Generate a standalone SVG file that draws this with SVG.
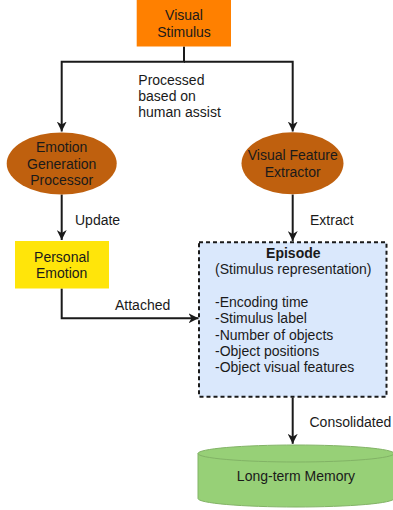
<svg xmlns="http://www.w3.org/2000/svg" width="393" height="510" viewBox="0 0 393 510">
<defs>
<style>
text{font-family:"Liberation Sans",Arial,sans-serif;font-size:14px;fill:#1a1a1a}
.c{text-anchor:middle}
.b{font-weight:bold}
.edge{fill:none;stroke:#1a1a1a;stroke-width:2}
</style>
<marker id="arr" viewBox="0 0 10 10" refX="10" refY="5" markerWidth="5" markerHeight="5" markerUnits="strokeWidth" orient="auto">
<path d="M0,0 L10,5 L0,10 L3,5 Z" fill="#1a1a1a"/>
</marker>
</defs>
<rect width="393" height="510" fill="#ffffff"/>
<g id="connectors">
<path class="edge" d="M184,46.5 V61.7 H61.7 V131.5" marker-end="url(#arr)"/>
<path class="edge" d="M184,61.7 H292.7 V131.5" marker-end="url(#arr)"/>
<path class="edge" d="M61.7,194.5 V240" marker-end="url(#arr)"/>
<path class="edge" d="M292.7,194.5 V241" marker-end="url(#arr)"/>
<path class="edge" d="M61.7,288.5 V318.3 H198.5" marker-end="url(#arr)"/>
<path class="edge" d="M292.7,397.5 V443.8" marker-end="url(#arr)"/>
<text x="138.3" y="85">Processed</text>
<text x="138.3" y="101">based on</text>
<text x="138.3" y="117">human assist</text>
<text x="75" y="225">Update</text>
<text x="310" y="225">Extract</text>
<text x="115" y="310">Attached</text>
<text x="309.5" y="427">Consolidated</text>
</g>
<g id="visual-stimulus">
<rect x="136.7" y="-1" width="94.3" height="47.5" fill="#ff8000"/>
<text class="c" x="184" y="20">Visual</text>
<text class="c" x="184" y="36.5">Stimulus</text>
</g>
<g id="emotion-generation-processor">
<ellipse cx="61.7" cy="163.5" rx="55" ry="31" fill="#bf600e"/>
<text class="c" x="61.7" y="152">Emotion</text>
<text class="c" x="61.7" y="168.7">Generation</text>
<text class="c" x="61.7" y="185">Processor</text>
</g>
<g id="visual-feature-extractor">
<ellipse cx="292.5" cy="163.3" rx="51" ry="31" fill="#bf600e"/>
<text class="c" x="292.7" y="160.3">Visual Feature</text>
<text class="c" x="292.7" y="176.7">Extractor</text>
</g>
<g id="personal-emotion">
<rect x="15" y="241" width="94" height="47.5" fill="#ffe50a"/>
<text class="c" x="61.7" y="261.7">Personal</text>
<text class="c" x="61.7" y="277.5">Emotion</text>
</g>
<g id="episode">
<rect x="199" y="242.3" width="187.5" height="154.5" fill="#dae8fc" stroke="#1a1a1a" stroke-width="2" stroke-dasharray="4 3"/>
<text class="c b" x="293.3" y="257.5">Episode</text>
<text class="c" x="293.3" y="274">(Stimulus representation)</text>
<text x="215" y="306.7">-Encoding time</text>
<text x="215" y="323.2">-Stimulus label</text>
<text x="215" y="339.5">-Number of objects</text>
<text x="215" y="355.8">-Object positions</text>
<text x="215" y="372.3">-Object visual features</text>
</g>
<g id="long-term-memory">
<path d="M198,453.5 A98,8.5 0 0 1 394,453.5 V498.5 A98,8.5 0 0 1 198,498.5 Z" fill="#97d077" stroke="#82b366" stroke-width="1"/>
<path d="M198,453.5 A98,8.5 0 0 0 394,453.5" fill="none" stroke="#82b366" stroke-width="1"/>
<text class="c" x="296" y="481">Long-term Memory</text>
</g>
</svg>
